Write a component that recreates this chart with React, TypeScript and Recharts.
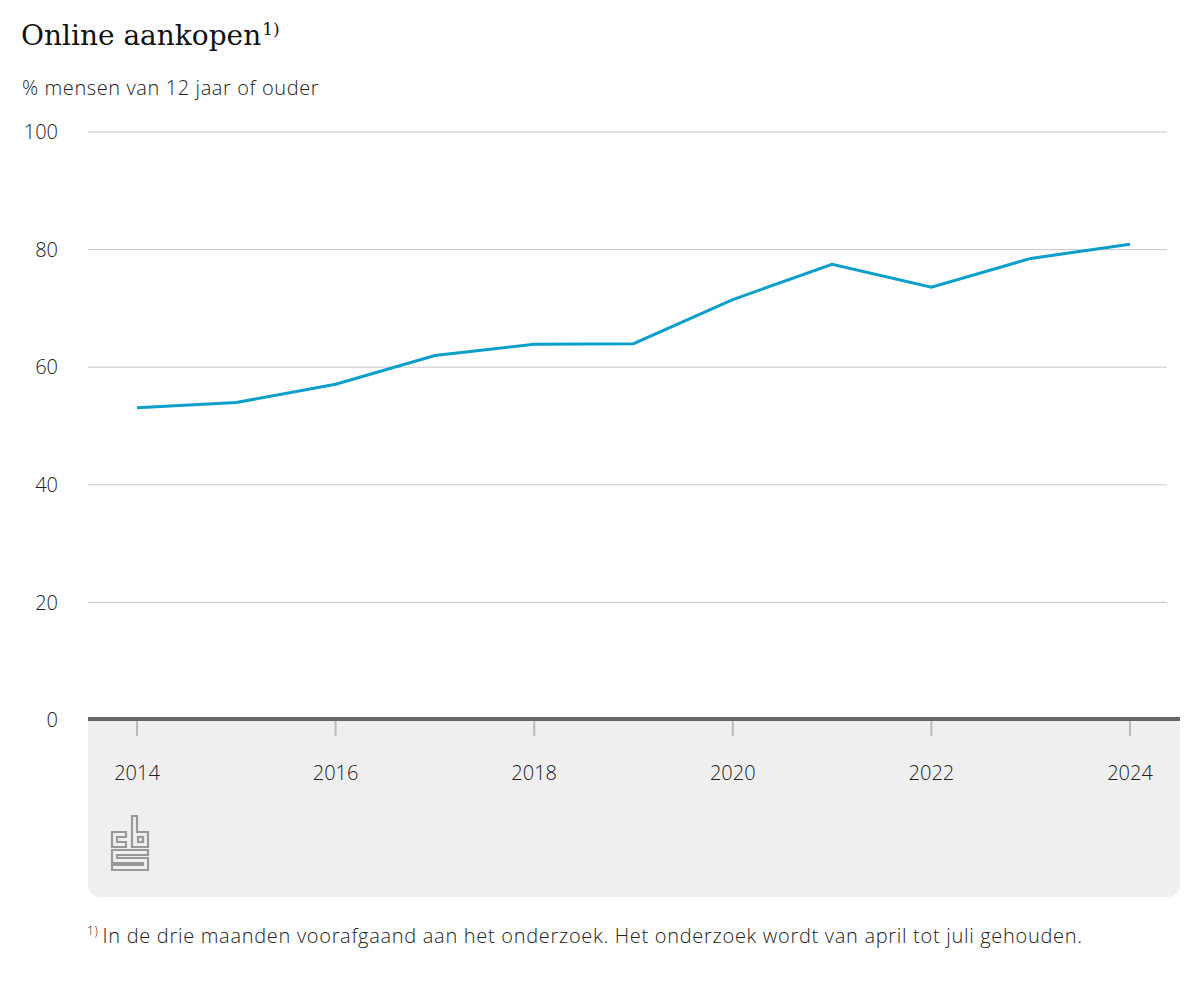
import React from "react";
import {
  LineChart,
  Line,
  XAxis,
  YAxis,
  CartesianGrid,
} from "recharts";

// Jaren en percentages
const JAREN = [2014, 2015, 2016, 2017, 2018, 2019, 2020, 2021, 2022, 2023, 2024];
const PERCENTAGES = [53.1, 54.0, 57.1, 62.0, 63.9, 64.0, 71.5, 77.5, 73.6, 78.5, 80.9];
const Y_TICKS = [0, 20, 40, 60, 80, 100];
const X_TICKS = [2014, 2016, 2018, 2020, 2022, 2024];

const data = JAREN.map((jaar, i) => ({ jaar, waarde: PERCENTAGES[i] }));

const SANS = "'Open Sans', 'Noto Sans', sans-serif";

function CbsLogo() {
  // eenvoudige benadering van het CBS-logo
  const s = { fill: "none", stroke: "#999", strokeWidth: 2.2, strokeLinejoin: "miter" as const };
  return (
    <svg width={40} height={58} style={{ position: "absolute", left: 110, top: 814 }}>
      <polygon points="2,18 16,18 16,23 7,23 7,28 16,28 16,33 2,33" {...s} />
      <polygon points="22,2 27,2 27,18 38,18 38,33 22,33" {...s} />
      <rect x={28} y={23} width={5} height={5} {...s} />
      <polygon
        points="2,36 38,36 38,41 7,41 7,44 38,44 38,56 2,56 2,51 33,51 33,49 2,49"
        {...s}
      />
    </svg>
  );
}

const tickStyle = { fill: "#222", fontSize: 20, fontWeight: 300, fontFamily: SANS };

export default function App() {
  return (
    <div
      style={{
        position: "absolute",
        left: 0,
        top: 0,
        width: 1200,
        height: 1000,
        background: "#fff",
        fontFamily: SANS,
      }}
    >
      <div
        style={{
          position: "absolute",
          left: 21,
          top: 19,
          fontFamily: "'DejaVu Serif', 'Liberation Serif', serif",
          fontSize: 28,
          color: "#111",
          whiteSpace: "nowrap",
        }}
      >
        Online aankopen
        <sup style={{ fontSize: 17, marginLeft: 1 }}>1)</sup>
      </div>
      <div
        style={{
          position: "absolute",
          left: 22,
          top: 74,
          fontSize: 20,
          letterSpacing: 0.6,
          fontWeight: 300,
          color: "#222",
        }}
      >
        % mensen van 12 jaar of ouder
      </div>

      {/* grijs vlak onder de x-as */}
      <div
        style={{
          position: "absolute",
          left: 88,
          top: 719,
          width: 1092,
          height: 178,
          background: "#efefef",
          borderBottomLeftRadius: 12,
          borderBottomRightRadius: 12,
        }}
      />
      <CbsLogo />

      <div style={{ position: "absolute", left: 0, top: 0 }}>
        <LineChart
          width={1200}
          height={800}
          data={data}
          margin={{ top: 132, right: 33, left: 0, bottom: 0 }}
        >
          <CartesianGrid vertical={false} stroke="#c8c8c8" strokeWidth={1} />
          <XAxis
            dataKey="jaar"
            type="number"
            domain={[2014, 2024]}
            ticks={X_TICKS}
            padding={{ left: 49, right: 37 }}
            axisLine={false}
            tickLine={{ stroke: "#bbb", strokeWidth: 2 }}
            tickSize={16}
            tickMargin={30}
            tick={tickStyle}
            height={80}
          />
          <YAxis
            domain={[0, 100]}
            ticks={Y_TICKS}
            width={88}
            axisLine={false}
            tickLine={false}
            tickSize={0}
            tickMargin={30}
            tick={tickStyle}
          />
          <Line
            type="linear"
            dataKey="waarde"
            stroke="#0c9fc9"
            strokeWidth={3}
            dot={false}
            isAnimationActive={false}
          />
        </LineChart>
      </div>

      {/* donkere nullijn */}
      <div
        style={{
          position: "absolute",
          left: 88,
          top: 717,
          width: 1092,
          height: 4,
          background: "#666",
          pointerEvents: "none",
        }}
      />

      <div
        style={{
          position: "absolute",
          left: 87,
          top: 922,
          fontSize: 20,
          letterSpacing: 0.7,
          fontWeight: 300,
          color: "#222",
          whiteSpace: "nowrap",
        }}
      >
        <sup style={{ fontSize: 12, marginRight: 4 }}>1)</sup>
        In de drie maanden voorafgaand aan het onderzoek. Het onderzoek wordt van april tot juli gehouden.
      </div>
    </div>
  );
}
